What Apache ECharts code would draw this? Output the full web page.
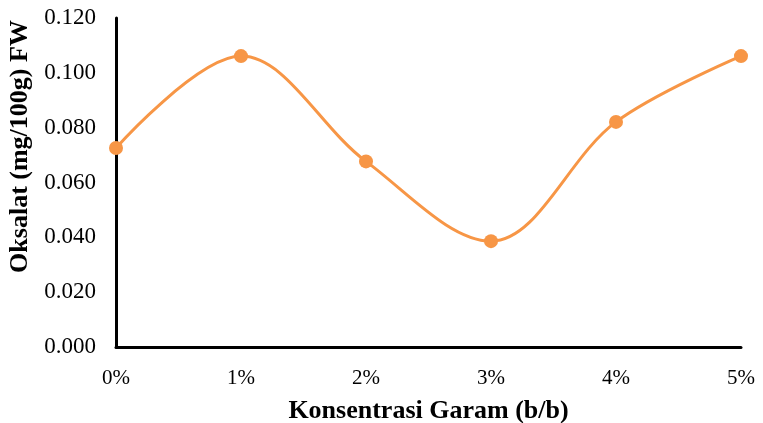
<!DOCTYPE html>
<html>
<head>
<meta charset="utf-8">
<script src="https://cdn.jsdelivr.net/npm/echarts@6/dist/echarts.min.js"></script>
<style>
  html, body { margin: 0; padding: 0; background: #fff; }
  #chart { width: 763px; height: 423px; }
</style>
</head>
<body>
<div id="chart"></div>
<script>
// Oxalate content (mg/100g FW) by salt concentration
const categories = ['0%', '1%', '2%', '3%', '4%', '5%'];
const oksalat = [0.0726, 0.1061, 0.0677, 0.0386, 0.0821, 0.1061];
const yTicks = { min: 0, max: 0.12, interval: 0.02 };

const serif = '"Liberation Serif", "Times New Roman", serif';
const orange = '#F79646';

const chart = echarts.init(document.getElementById('chart'));
chart.setOption({
  animation: false,
  grid: { left: 116, right: 22, top: 18, bottom: 76, outerBoundsMode: 'none' },
  xAxis: {
    type: 'category',
    data: categories,
    boundaryGap: false,
    name: 'Konsentrasi Garam (b/b)',
    nameLocation: 'middle',
    nameGap: 51,
    nameTextStyle: { fontFamily: serif, fontWeight: 'bold', fontSize: 26, color: '#000' },
    axisLine: { lineStyle: { color: '#000', width: 3 } },
    axisTick: { show: false },
    axisLabel: { fontFamily: serif, fontSize: 21, color: '#000', margin: 21 },
    splitLine: { show: false }
  },
  yAxis: {
    type: 'value',
    min: yTicks.min,
    max: yTicks.max,
    interval: yTicks.interval,
    name: 'Oksalat (mg/100g) FW',
    nameLocation: 'middle',
    nameGap: 82,
    nameTextStyle: {
      fontFamily: serif, fontWeight: 'bold', fontSize: 26, color: '#000',
      padding: [0, 0, 0, 72]
    },
    axisLine: { show: true, lineStyle: { color: '#000', width: 3 } },
    axisTick: { show: false },
    axisLabel: {
      fontFamily: serif, fontSize: 23, color: '#000', margin: 20,
      formatter: v => v.toFixed(3)
    },
    splitLine: { show: false }
  },
  series: [{
    type: 'line',
    data: oksalat,
    smooth: 0.35,
    symbol: 'circle',
    symbolSize: 14,
    lineStyle: { color: orange, width: 3 },
    itemStyle: { color: orange }
  }]
});
</script>
</body>
</html>
